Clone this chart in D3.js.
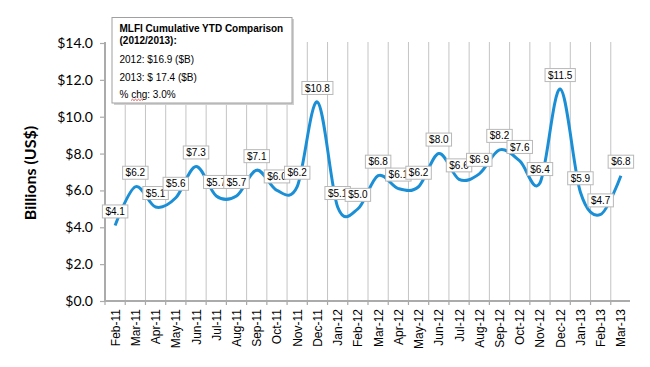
<!DOCTYPE html>
<html>
<head>
<meta charset="utf-8">
<script src="https://cdn.jsdelivr.net/npm/d3@7/dist/d3.min.js"></script>
<style>
  body { margin: 0; background: #fff; }
  svg { display: block; font-family: "Liberation Sans", Arial, sans-serif; }
</style>
</head>
<body>
<div id="chart"></div>
<script>
// monthly values, billions US$
const months = ["Feb-11", "Mar-11", "Apr-11", "May-11", "Jun-11", "Jul-11", "Aug-11", "Sep-11",
    "Oct-11", "Nov-11", "Dec-11", "Jan-12", "Feb-12", "Mar-12", "Apr-12", "May-12", "Jun-12",
    "Jul-12", "Aug-12", "Sep-12", "Oct-12", "Nov-12", "Dec-12", "Jan-13", "Feb-13", "Mar-13"]
const values = [4.1, 6.2, 5.1, 5.6, 7.3, 5.7, 5.7, 7.1, 6.0, 6.2, 10.8, 5.1, 5.0,
    6.8, 6.1, 6.2, 8.0, 6.6, 6.9, 8.2, 7.6, 6.4, 11.5, 5.9, 4.7, 6.8]
const yTicks = [0, 2, 4, 6, 8, 10, 12, 14]
const noteTitle = ["MLFI Cumulative YTD Comparison", "(2012/2013):"]
const noteLines = ["2012: $16.9 ($B)", "2013: $ 17.4  ($B)", "% chg: 3.0%"]

class LineChart {

    constructor(_parentElement) {
        this.parentElement = _parentElement
        this.initVis()
    }

    initVis() {
        const vis = this
        vis.svg = d3.select(vis.parentElement).append('svg')
            .attr('width', 650)
            .attr('height', 367)

        vis.x = d3.scaleBand().domain(months).range([105, 631])
        vis.y = d3.scaleLinear().domain([0, 14]).range([301, 43])
        vis.cx = d => vis.x(d) + vis.x.bandwidth() / 2

        vis.drawGrid()
        vis.drawAxes()
        vis.drawLine()
        vis.drawLabels()
        vis.drawNote()
    }

    // vertical lines sit between the categories, Excel style
    drawGrid() {
        const vis = this
        const bounds = d3.range(1, months.length).map(i => vis.x.range()[0] + i * vis.x.step())
        vis.svg.append('g').selectAll('line')
            .data(bounds)
            .join('line')
            .attr('x1', d => d).attr('x2', d => d)
            .attr('y1', 42).attr('y2', vis.y(0))
            .attr('stroke', '#c4c4c4')
            .attr('stroke-width', 1)

        // tick marks below the x axis
        vis.svg.append('g').selectAll('line')
            .data([vis.x.range()[0]].concat(bounds))
            .join('line')
            .attr('x1', d => d).attr('x2', d => d)
            .attr('y1', vis.y(0)).attr('y2', vis.y(0) + 4)
            .attr('stroke', '#a8a8a8')
            .attr('stroke-width', 1.2)
    }

    drawAxes() {
        const vis = this
        const yAxis = d3.axisLeft(vis.y)
            .tickValues(yTicks)
            .tickFormat(d => '$' + d.toFixed(1))
            .tickSize(5)
            .tickSizeOuter(0)
            .tickPadding(7)

        const gy = vis.svg.append('g')
            .attr('transform', 'translate(105,0)')
            .call(yAxis)
        gy.select('.domain').attr('stroke', '#ababab').attr('stroke-width', 2)
            .attr('d', `M0,42V${vis.y(0)}`)
        gy.selectAll('.tick line').attr('stroke', '#ababab').attr('stroke-width', 1.2)
        gy.selectAll('.tick text')
            .attr('font-family', 'Lato, "Liberation Sans", sans-serif')
            .attr('font-size', 14)
            .attr('fill', '#000')

        vis.svg.append('line')
            .attr('x1', 104).attr('x2', vis.x.range()[1] - 1)
            .attr('y1', vis.y(0)).attr('y2', vis.y(0))
            .attr('stroke', '#ababab')
            .attr('stroke-width', 2)

        // rotated month labels
        vis.svg.append('g').selectAll('text')
            .data(months)
            .join('text')
            .attr('transform', d => `translate(${vis.cx(d) + 4.5},309) rotate(-90)`)
            .attr('text-anchor', 'end')
            .attr('font-size', 12)
            .attr('fill', '#000')
            .text(d => d)

        vis.svg.append('text')
            .attr('transform', 'translate(36,173) rotate(-90)')
            .attr('text-anchor', 'middle')
            .attr('font-family', 'Lato, "Liberation Sans", sans-serif')
            .attr('font-weight', 'bold')
            .attr('font-size', 16)
            .attr('fill', '#000')
            .text('Billions (US$)')
    }

    drawLine() {
        const vis = this
        const line = d3.line()
            .x((d, i) => vis.cx(months[i]))
            .y(d => vis.y(d))
            .curve(d3.curveCardinal.tension(0)) // smoothed like Excel

        vis.svg.append('path')
            .datum(values)
            .attr('d', line)
            .attr('fill', 'none')
            .attr('stroke', '#1b8fd6')
            .attr('stroke-width', 3)
    }

    // boxed value labels above each point, later ones drawn on top
    drawLabels() {
        const vis = this
        const g = vis.svg.append('g')
        values.forEach((v, i) => {
            const px = vis.cx(months[i])
            const py = vis.y(v) - 14
            const lab = g.append('g').attr('transform', `translate(${px},${py})`)
            const t = lab.append('text')
                .attr('text-anchor', 'middle')
                .attr('dy', '0.36em')
                .attr('font-size', 10)
                .attr('fill', '#000')
                .text('$' + v.toFixed(1))
            const w = t.node().getComputedTextLength() + 6
            lab.insert('rect', 'text')
                .attr('x', -w / 2).attr('y', -6.5)
                .attr('width', w).attr('height', 13)
                .attr('fill', '#fff')
                .attr('stroke', '#b8b8b8')
                .attr('stroke-width', 1)
        })
    }

    drawNote() {
        const vis = this
        const g = vis.svg.append('g')
        g.append('rect')
            .attr('x', 114).attr('y', 19)
            .attr('width', 180).attr('height', 86)
            .attr('fill', '#d0d0d0')
        g.append('rect')
            .attr('x', 112).attr('y', 17.5)
            .attr('width', 180).attr('height', 85.5)
            .attr('fill', '#fff')
            .attr('stroke', '#a0a0a0')
            .attr('stroke-width', 1)

        g.selectAll('.title')
            .data(noteTitle)
            .join('text')
            .attr('x', 119.5)
            .attr('y', (d, i) => 32 + i * 11.5)
            .attr('font-size', 10)
            .attr('font-weight', 'bold')
            .attr('fill', '#000')
            .text(d => d)

        g.selectAll('.line')
            .data(noteLines)
            .join('text')
            .attr('x', 119.5)
            .attr('y', (d, i) => 63 + i * 17.5)
            .attr('font-size', 10)
            .attr('fill', '#000')
            .text(d => d)

        // spell-check squiggle under "chg"
        const zig = d3.range(0, 13, 1.5).map((d, i) => [131 + d, i % 2 ? 99.2 : 100.6])
        g.append('path')
            .attr('d', d3.line()(zig))
            .attr('fill', 'none')
            .attr('stroke', '#e03030')
            .attr('stroke-width', 0.8)
    }
}

new LineChart(document.getElementById('chart'))
</script>
</body>
</html>
